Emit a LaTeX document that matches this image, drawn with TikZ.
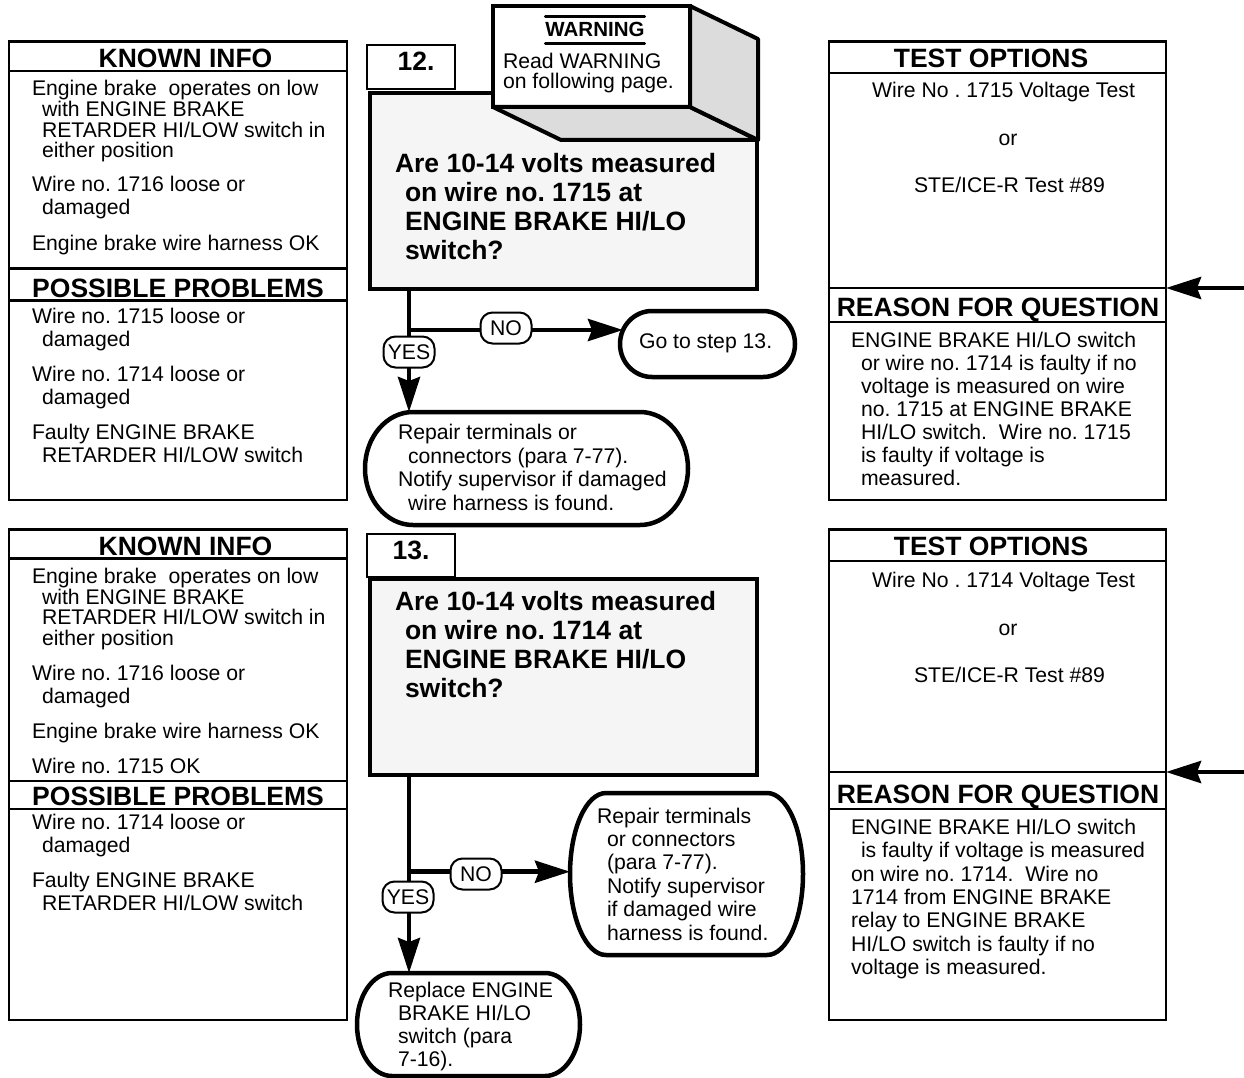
\documentclass[tikz,border=0pt]{standalone}
\usepackage{fontspec}
\setmainfont{Liberation Sans}
\usetikzlibrary{arrows.meta,calc}
\frenchspacing

\definecolor{qfill}{HTML}{F5F5F5}
\definecolor{side}{HTML}{DCDCDC}

% hanging indent of continued lines
\newcommand{\ind}{\hspace*{10pt}}
% a column of text lines: style, name, x, first baseline (downwards), line step, lines
\newcommand{\textlines}[6]{%
  \foreach \lineT [count=\idx from 0] in {#6}
    \node[#1] (#2-\idx) at ({#3}, {-(#4)-(#5)*\idx}) {\ignorespaces\lineT};}
% oval with half-elliptic ends drawn round an empty node: name, end radius, half height
\newcommand{\stadium}[3]{%
  \draw[ovalline] ([xshift=#2pt]#1.north west) -- ([xshift=-#2pt]#1.north east)
    arc[start angle=90, end angle=-90, x radius=#2pt, y radius=#3pt]
    -- ([xshift=#2pt]#1.south west)
    arc[start angle=270, end angle=90, x radius=#2pt, y radius=#3pt] -- cycle;}
% horizontal divider across a panel at a given depth
\newcommand{\sepline}[2]{\draw[divider] (#1.west |- 0,-#2) -- (#1.east |- 0,-#2);}

\begin{document}
\begin{tikzpicture}[x=1pt, y=1pt,
  body/.style={font=\fontsize{21.2}{23}\selectfont, inner sep=0pt, outer sep=0pt, anchor=base west},
  bodyc/.style={body, anchor=base},
  head/.style={font=\fontsize{26.5}{29}\selectfont\bfseries, inner sep=0pt, outer sep=0pt, anchor=base},
  quest/.style={head, anchor=base west},
  panel/.style={draw, line width=2.2pt, fill=white, anchor=north west, inner sep=0pt, outer sep=0pt},
  qbox/.style={draw, line width=4.5pt, fill=qfill, anchor=north west, inner sep=0pt, outer sep=0pt},
  holder/.style={inner sep=0pt, outer sep=0pt},
  ovalline/.style={draw, line width=4.5pt, fill=white, line join=round},
  divider/.style={line width=2.2pt},
  tag/.style={draw, line width=2pt, fill=white, rounded corners=12pt,
    font=\fontsize{21.2}{23}\selectfont, inner sep=0pt, minimum width=51pt, minimum height=31pt},
  conn/.style={line width=4.5pt},
  flow/.style={conn, -{Stealth[length=35pt, width=22pt, inset=4pt]}},
  wall/.style={draw, line width=4pt, fill=side, line join=round},
  bar/.style={line width=3pt, line cap=round},
]
\useasboundingbox (0,0) rectangle (1244,-1078);

% ================= step 12 =================
% known info / possible problems
\node[panel, minimum width=338pt, minimum height=458.5pt] (info12) at (9,-41.5) {};
\sepline{info12}{70.7}
\sepline{info12}{268.5}
\sepline{info12}{300.5}
\node[head] (info12-t) at (185.5,-67.3) {KNOWN INFO};
\node[head] (info12-p) at (178,-297) {POSSIBLE PROBLEMS};
\textlines{body}{k12a}{32}{95.7}{20.7}{Engine brake~ operates on low,\ind with ENGINE BRAKE,\ind RETARDER HI/LOW switch in,\ind either position}
\textlines{body}{k12b}{32}{191.7}{22.5}{Wire no. 1716 loose or,\ind damaged}
\node[body] (k12c) at (32,-250) {Engine brake wire harness OK};
\textlines{body}{p12a}{32}{323}{23}{Wire no. 1715 loose or,\ind damaged}
\textlines{body}{p12b}{32}{381}{23}{Wire no. 1714 loose or,\ind damaged}
\textlines{body}{p12c}{32}{439}{23}{Faulty ENGINE BRAKE,\ind RETARDER HI/LOW switch}

% question
\node[panel, minimum width=88pt, minimum height=44pt] (lab12) at (367,-45) {};
\node[head] (lab12-t) at (416,-70.7) {12.};
\node[qbox, minimum width=387pt, minimum height=196pt] (q12) at (370,-93) {};
\textlines{quest}{q12t}{395}{172.7}{29}{Are 10-14 volts measured,\ind on wire no. 1715 at,\ind ENGINE BRAKE HI/LO,\ind switch?}

% warning block
\node[draw, line width=4pt, fill=white, anchor=north west, inner sep=0pt, outer sep=0pt,
  minimum width=197pt, minimum height=101pt] (warn) at (493,-6) {};
\draw[wall] (warn.south west) -- (warn.south east) -- ++(68,-33)
  -- ($(warn.south west)+(68,-33)$) -- cycle;
\draw[wall] (warn.north east) -- ++(68,-33) -- ($(warn.south east)+(68,-33)$)
  -- (warn.south east) -- cycle;
\node[head, font=\fontsize{20.5}{22}\selectfont\bfseries] (wt) at (595,-37) {WARNING};
\draw[bar] ([yshift=6.5pt]wt.north west) -- ([yshift=6.5pt]wt.north east);
\draw[bar] ([yshift=-6.3pt]wt.south west) -- ([yshift=-6.3pt]wt.south east);
\textlines{body}{wtx}{503}{68.3}{20}{Read WARNING,on following page.}

% outcomes
\coordinate (j12) at (409,-330);
\node[holder, minimum width=175pt, minimum height=66pt] (go13) at (707.5,-344) {};
\stadium{go13}{32}{33}
\node[body] (go13-t) at (639,-348.3) {Go to step 13.};
\node[holder, minimum width=323pt, minimum height=113pt] (rep12) at (526.5,-468.5) {};
\stadium{rep12}{48}{56.5}
\textlines{body}{rep12t}{398}{439.5}{23.7}{Repair terminals or,\ind connectors (para 7-77).,Notify supervisor if damaged,\ind wire harness is found.}
\draw[flow] (q12.south -| j12) -- (j12 |- rep12.north);
\draw[flow] (j12) -- ($(j12 -| go13.west)+(3,0)$);
\node[tag] (no12) at (506,-328) {NO};
\node[tag] (yes12) at (409,-352) {YES};

% test options / reason
\node[panel, minimum width=337pt, minimum height=458.5pt] (test12) at (829,-41.5) {};
\sepline{test12}{73}
\sepline{test12}{288}
\sepline{test12}{322}
\node[head] (test12-t) at (991,-67.3) {TEST OPTIONS};
\node[bodyc] (to12a) at (1003.5,-97.5) {Wire No . 1715 Voltage Test};
\node[bodyc] (to12b) at (1008,-145.5) {or};
\node[bodyc] (to12c) at (1009.5,-192.5) {STE/ICE-R Test \#89};
\node[head] (test12-r) at (998,-316.5) {REASON FOR QUESTION};
\textlines{body}{r12}{851}{347.5}{23}{ENGINE BRAKE HI/LO switch,\ind or wire no. 1714 is faulty if no,\ind voltage is measured on wire,\ind no. 1715 at ENGINE BRAKE,\ind HI/LO switch.~ Wire no. 1715,\ind is faulty if voltage is,\ind measured.}
\coordinate (in12) at (1244,-288);
\draw[flow] (in12) -- (in12 -| test12.east);

% ================= step 13 =================
\node[panel, minimum width=338pt, minimum height=490.5pt] (info13) at (9,-529.5) {};
\sepline{info13}{558.5}
\sepline{info13}{780.7}
\sepline{info13}{809.3}
\node[head] (info13-t) at (185.5,-555) {KNOWN INFO};
\node[head] (info13-p) at (178,-805) {POSSIBLE PROBLEMS};
\textlines{body}{k13a}{32}{583.5}{20.7}{Engine brake~ operates on low,\ind with ENGINE BRAKE,\ind RETARDER HI/LOW switch in,\ind either position}
\textlines{body}{k13b}{32}{680.5}{22.5}{Wire no. 1716 loose or,\ind damaged}
\node[body] (k13c) at (32,-738.5) {Engine brake wire harness OK};
\node[body] (k13d) at (32,-773.3) {Wire no. 1715 OK};
\textlines{body}{p13a}{32}{829.5}{23}{Wire no. 1714 loose or,\ind damaged}
\textlines{body}{p13b}{32}{887.5}{23}{Faulty ENGINE BRAKE,\ind RETARDER HI/LOW switch}

\node[panel, minimum width=88pt, minimum height=43pt] (lab13) at (367,-534) {};
\node[head] (lab13-t) at (411,-559.3) {13.};
\node[qbox, minimum width=387pt, minimum height=196pt] (q13) at (370,-579) {};
\textlines{quest}{q13t}{395}{610}{29}{Are 10-14 volts measured,\ind on wire no. 1714 at,\ind ENGINE BRAKE HI/LO,\ind switch?}

\coordinate (j13) at (409,-871.7);
\node[holder, minimum width=233pt, minimum height=162pt] (rep13) at (686.5,-874) {};
\stadium{rep13}{36}{81}
\textlines{body}{rep13t}{597}{823}{23.4}{Repair terminals,\ind or connectors,\ind (para 7-77).,\ind Notify supervisor,\ind if damaged wire,\ind harness is found.}
\node[holder, minimum width=223pt, minimum height=103pt] (rpl13) at (468.5,-1024.5) {};
\stadium{rpl13}{35}{51.5}
\textlines{body}{rpl13t}{388}{997}{23.3}{Replace ENGINE,\ind BRAKE HI/LO,\ind switch (para,\ind 7-16).}
\draw[flow] (q13.south -| j13) -- (j13 |- rpl13.north);
\draw[flow] (j13) -- (j13 -| rep13.west);
\node[tag] (no13) at (476,-874) {NO};
\node[tag] (yes13) at (408,-897) {YES};

\node[panel, minimum width=337pt, minimum height=490.5pt] (test13) at (829,-529.5) {};
\sepline{test13}{561}
\sepline{test13}{772}
\sepline{test13}{809}
\node[head] (test13-t) at (991,-555) {TEST OPTIONS};
\node[bodyc] (to13a) at (1003.5,-587.5) {Wire No . 1714 Voltage Test};
\node[bodyc] (to13b) at (1008,-635.5) {or};
\node[bodyc] (to13c) at (1009.5,-682.5) {STE/ICE-R Test \#89};
\node[head] (test13-r) at (998,-803.5) {REASON FOR QUESTION};
\textlines{body}{r13}{851}{834.5}{23.3}{ENGINE BRAKE HI/LO switch,\ind is faulty if voltage is measured,on wire no. 1714.~ Wire no,1714 from ENGINE BRAKE,relay to ENGINE BRAKE,HI/LO switch is faulty if no,voltage is measured.}
\coordinate (in13) at (1244,-772);
\draw[flow] (in13) -- (in13 -| test13.east);
\end{tikzpicture}
\end{document}
